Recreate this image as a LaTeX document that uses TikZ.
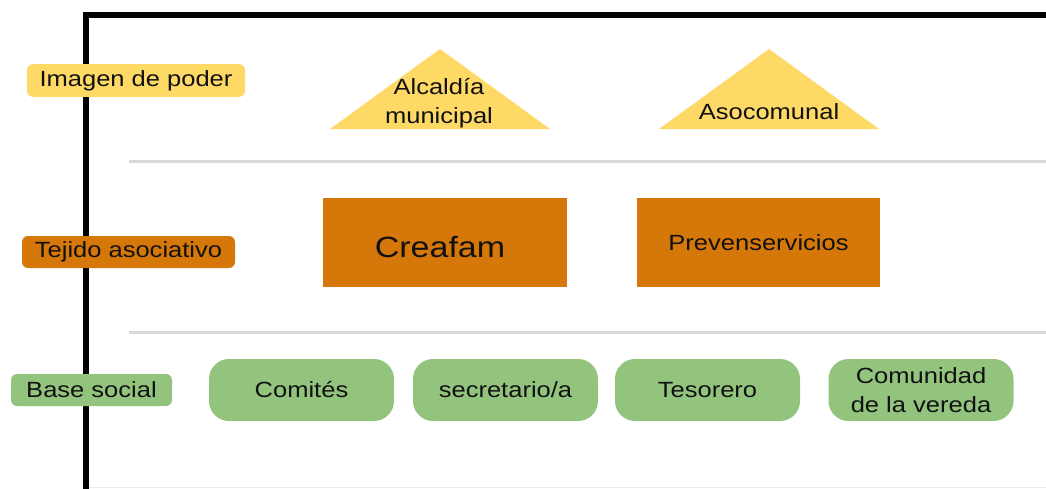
\documentclass[tikz,border=0pt]{standalone}
\usepackage{fontspec}
\setmainfont{Liberation Sans}[FakeStretch=1.16]
\definecolor{ylw}{HTML}{FFD966}
\definecolor{org}{HTML}{D67809}
\definecolor{grn}{HTML}{93C47D}
\definecolor{sep}{HTML}{D9D9D9}
\definecolor{txtc}{HTML}{111111}
\begin{document}
\begin{tikzpicture}[x=0.75pt,y=-0.75pt,
  txt/.style={inner sep=0pt, text=txtc, align=center,
    font=\fontsize{16.5pt}{21.75pt}\selectfont},
  tagbox/.style={txt, rounded corners=4.5pt, minimum height=24.5pt},
  orgbox/.style={fill=org, inner sep=0pt, minimum width=182.5pt, minimum height=66.75pt},
  grnbox/.style={txt, fill=grn, rounded corners=15pt, minimum width=138.75pt, minimum height=46.5pt},
  sepline/.style={draw=sep, line width=2.25pt},
  framepath/.style={draw=black, line width=4.5pt, line join=miter}
]
\useasboundingbox (0,0) rectangle (1046,489);

% frame
\coordinate (ftr) at (1046,14.5);
\coordinate (ftl) at (85.5,14.5);
\coordinate (fbl) at (85.5,489);
\draw[framepath] (ftr) -- (ftl) -- (fbl);
\coordinate (fb1) at (89,487.5);
\coordinate (fb2) at (1046,487.5);
\draw[draw=black!8, line width=0.9pt] (fb1) -- (fb2);

% separator lines
\coordinate (s1a) at (129,161);
\coordinate (s1b) at (1046,161);
\coordinate (s2a) at (129,332);
\coordinate (s2b) at (1046,332);
\draw[sepline] (s1a) -- (s1b);
\draw[sepline] (s2a) -- (s2b);

% row labels
\node[tagbox, fill=ylw, minimum width=163.5pt] (imagen) at (136,80.5) {Imagen de poder};
\node[tagbox, fill=org, minimum width=159.75pt, minimum height=24pt] (tejido) at (128.5,252) {Tejido asociativo};
\node[tagbox, fill=grn, minimum width=120.75pt, minimum height=24pt] (base) at (91.5,390) {Base social};

% triangles
\fill[ylw] (330,129) -- (550,129) -- (440,49) -- cycle;
\fill[ylw] (659,129) -- (879,129) -- (769,49) -- cycle;
\node[txt] (alcaldia) at (439,103) {Alcaldía\\municipal};
\node[txt] (asocomunal) at (769,111.5) {Asocomunal};

% associative tissue
\node[orgbox] (creafambox) at (445,242.5) {};
\node[txt, font=\fontsize{22pt}{26pt}\selectfont] (creafam) at (440,247) {Creafam};
\node[orgbox] (prevenbox) at (758.5,242.5) {};
\node[txt] (preven) at (758.5,243) {Prevenservicios};

% social base
\node[grnbox] (comites) at (301.5,390) {Comités};
\node[grnbox] (secretario) at (505.5,390) {secretario/a};
\node[grnbox] (tesorero) at (707.5,390) {Tesorero};
\node[grnbox] (comunidad) at (921,390) {Comunidad\\de la vereda};
\end{tikzpicture}
\end{document}
